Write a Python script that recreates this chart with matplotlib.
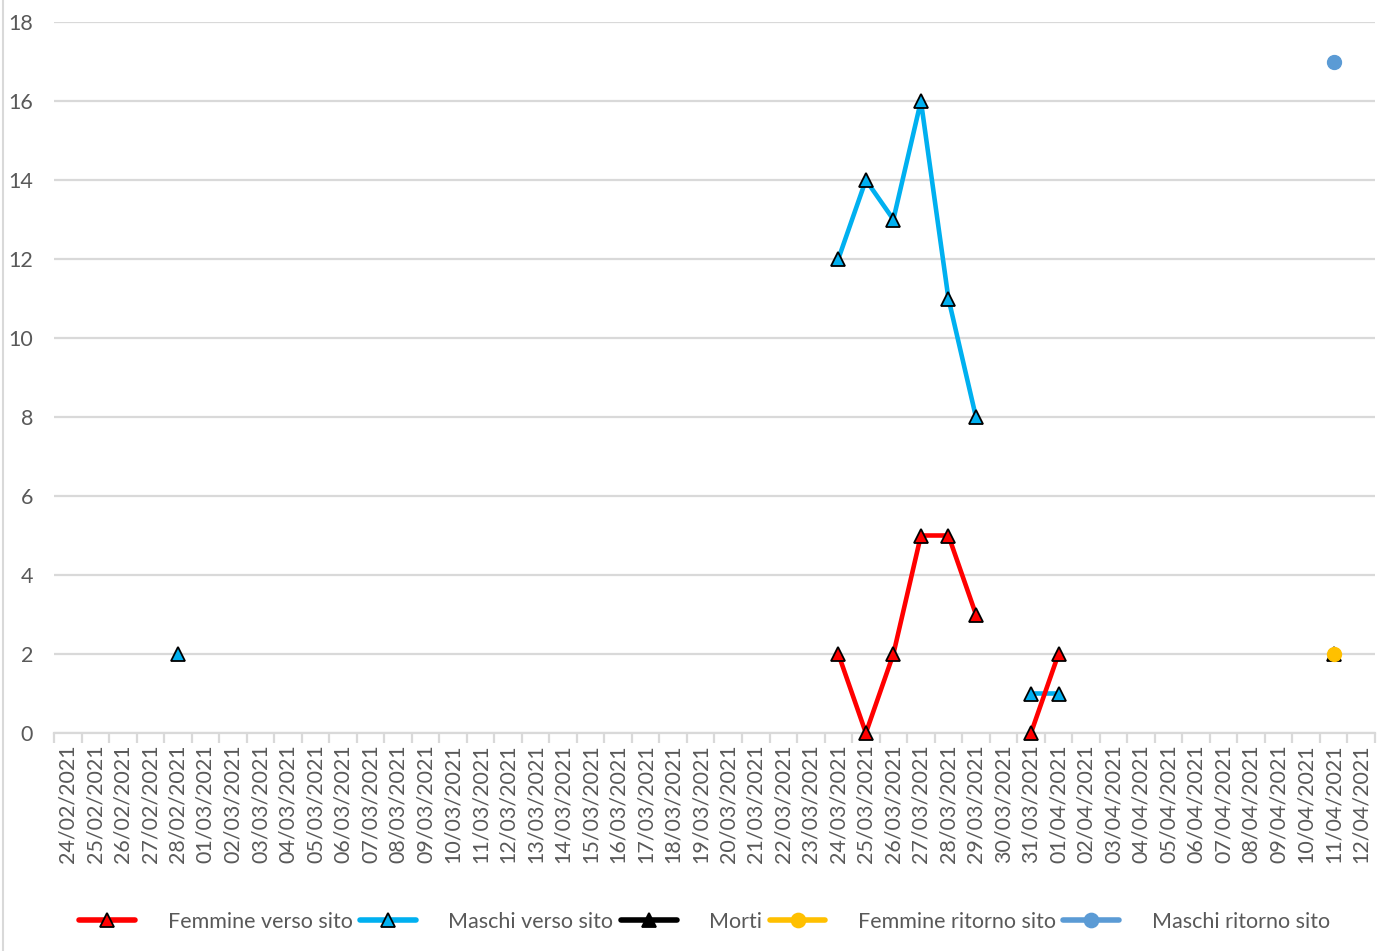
import datetime as dt
import numpy as np
import matplotlib.pyplot as plt
from matplotlib.lines import Line2D

plt.rcParams['font.family'] = ['Lato', 'DejaVu Sans']

# daily categories 24/02/2021 .. 12/04/2021
start = dt.date(2021, 2, 24)
dates = [(start + dt.timedelta(days=i)).strftime('%d/%m/%Y') for i in range(48)]
nan = np.nan

def series(points):
    vals = [nan] * len(dates)
    for d, v in points.items():
        vals[dates.index(d)] = v
    return vals

femmine_verso = series({'24/03/2021': 2, '25/03/2021': 0, '26/03/2021': 2, '27/03/2021': 5,
                        '28/03/2021': 5, '29/03/2021': 3, '31/03/2021': 0, '01/04/2021': 2})
maschi_verso = series({'28/02/2021': 2, '24/03/2021': 12, '25/03/2021': 14, '26/03/2021': 13,
                       '27/03/2021': 16, '28/03/2021': 11, '29/03/2021': 8,
                       '31/03/2021': 1, '01/04/2021': 1})
morti = series({'11/04/2021': 2})
femmine_ritorno = series({'11/04/2021': 2})
maschi_ritorno = series({'11/04/2021': 17})

x = np.arange(len(dates))
grey = '#595959'
grid = '#D9D9D9'

fig = plt.figure(figsize=(13.95, 9.51), dpi=100)
ax = fig.add_axes([54 / 1395, 1 - 733 / 951, (1375 - 54) / 1395, (733 - 22) / 951])

# (label, values, colour, marker, line zorder)
styles = [
    ('Femmine verso sito', femmine_verso, '#FF0000', '^', 2.3),
    ('Maschi verso sito', maschi_verso, '#00B0F0', '^', 2.2),
    ('Morti', morti, '#000000', '^', 2.1),
    ('Femmine ritorno sito', femmine_ritorno, '#FFC000', 'o', 2.0),
    ('Maschi ritorno sito', maschi_ritorno, '#5B9BD5', 'o', 2.0),
]
handles = []
for i, (lab, vals, col, mk, lz) in enumerate(styles):
    ax.plot(x, vals, color=col, lw=3.3, solid_capstyle='round', zorder=lz, clip_on=False)
    if mk == '^':
        ax.plot(x, vals, ls='none', marker='^', ms=10, mfc=col, mec='black', mew=1.3,
                zorder=5 + i, clip_on=False)
    else:
        ax.plot(x, vals, ls='none', marker='o', ms=10, mfc=col, mec=col, zorder=5 + i, clip_on=False)
    handles.append(Line2D([], [], color=col, lw=4, solid_capstyle='round', marker=mk, ms=10,
                          mfc=col, mec='black' if mk == '^' else col, mew=1.3))

ax.set_xlim(-0.5, len(dates) - 0.5)
ax.set_ylim(0, 18)
ax.set_yticks(range(0, 19, 2))
ax.yaxis.grid(True, color=grid, lw=1.6)
ax.set_axisbelow(True)
for s in ['top', 'right', 'left']:
    ax.spines[s].set_visible(False)
ax.spines['bottom'].set_color(grid)
ax.spines['bottom'].set_linewidth(1.6)

ax.set_xticks(x)
ax.set_xticklabels(dates, rotation=90, va='top', ha='center')
ax.set_xticks(np.arange(-0.5, len(dates)), minor=True)
ax.tick_params(axis='x', which='major', length=0, pad=8, labelsize=15.5, labelcolor=grey)
ax.tick_params(axis='x', which='minor', length=7, width=1.6, color=grid)
ax.tick_params(axis='y', length=0, pad=15, labelsize=15.5, labelcolor=grey)

fig.legend(handles, [s[0] for s in styles], loc='center', bbox_to_anchor=(0.505, 1 - 922 / 951),
           ncol=5, frameon=False, fontsize=15.5, labelcolor=grey, handlelength=2.6,
           handletextpad=1.5, columnspacing=0.35)

# chart area border on the left
fig.add_artist(Line2D([3 / 1395, 3 / 1395], [0, 1], color=grid, lw=1.5))

fig.savefig('out.png', dpi=100)
